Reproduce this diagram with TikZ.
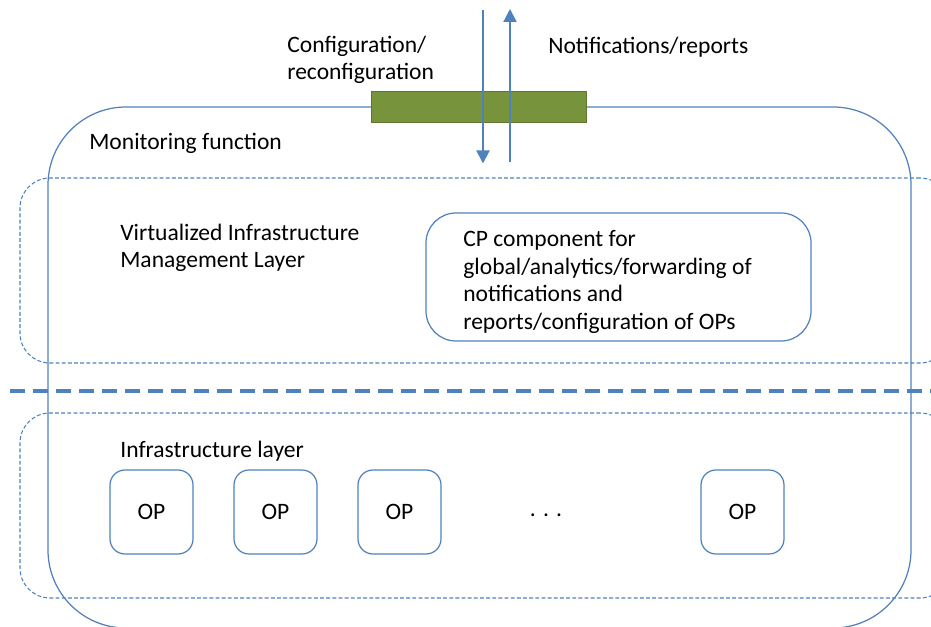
\documentclass[tikz,border=0pt]{standalone}
\usepackage{fontspec}
\setmainfont{Carlito}
\usetikzlibrary{shapes.geometric, arrows.meta}
\definecolor{officeblue}{HTML}{4F81BD}
\definecolor{barGreen}{HTML}{77933C}
\tikzstyle{monitorbox} = [rectangle, draw=officeblue, line width=0.7pt, rounded corners=1.56cm, minimum width=17.26cm, minimum height=10.42cm]
\tikzstyle{layerbox} = [rectangle, draw=officeblue, line width=0.6pt, dash pattern=on 2.2pt off 1.3pt, rounded corners=0.6cm, minimum width=18.6cm, minimum height=3.7cm]
\tikzstyle{cpbox} = [rectangle, draw=officeblue, line width=0.7pt, rounded corners=0.6cm, minimum width=7.7cm, minimum height=2.56cm]
\tikzstyle{opbox} = [rectangle, draw=officeblue, line width=0.7pt, rounded corners=0.3cm, minimum width=1.66cm, minimum height=1.68cm]
\tikzstyle{label} = [anchor=west, align=left, inner sep=0pt]
\tikzstyle{arrow} = [draw=officeblue, line width=1.2pt, -{Triangle[length=0.26cm, width=0.26cm]}]

\begin{document}
\begin{tikzpicture}[font=\fontsize{13.4}{15.6}\selectfont]
            \useasboundingbox (0,0) rectangle (18.62,-12.54);
            \clip (0,0) rectangle (18.62,-12.54);

            \node [monitorbox] at (9.59,-7.35) (monitor) {};
            \node [layerbox] at (9.7,-5.41) (vimlayer) {};
            \node [layerbox] at (9.7,-10.11) (infralayer) {};
            \draw [officeblue, line width=1.8pt, dash pattern=on 0.3cm off 0.16cm] (0.2,-7.82) coordinate (sepleft) -- (18.62,-7.82) coordinate (sepright);

            \node [rectangle, fill=barGreen, draw=barGreen!80!black, line width=0.4pt, minimum width=4.3cm, minimum height=0.62cm] at (9.57,-2.13) (greenbar) {};

            \coordinate (cfgtop) at (9.66,-0.2);
            \coordinate (cfgbot) at (9.66,-3.27);
            \coordinate (notbot) at (10.2,-3.24);
            \coordinate (nottop) at (10.2,-0.18);
            \draw [arrow] (cfgtop) -- (cfgbot);
            \draw [arrow] (notbot) -- (nottop);

            \node [label] at (5.74,-1.2) (cfgtext) {Configuration/\\reconfiguration};
            \node [label] at (10.96,-0.94) (nottext) {Notifications/reports};
            \node [label] at (1.78,-2.86) (montext) {Monitoring function};
            \node [label] at (2.4,-4.96) (vimtext) {Virtualized Infrastructure\\Management Layer};
            \node [label] at (2.4,-9.02) (infratext) {Infrastructure layer};

            \node [cpbox] at (12.37,-5.54) (cp) {};
            \node [label] at (9.26,-5.64) (cptext) {CP component for\\global/analytics/forwarding of\\notifications and\\reports/configuration of OPs};

            \node [opbox] at (3.03,-10.24) (op1) {OP};
            \node [opbox] at (5.51,-10.24) (op2) {OP};
            \node [opbox] at (7.99,-10.24) (op3) {OP};
            \node at (10.92,-10.3) (dots) {. . .};
            \node [opbox] at (14.85,-10.24) (op4) {OP};
            \end{tikzpicture}
\end{document}
